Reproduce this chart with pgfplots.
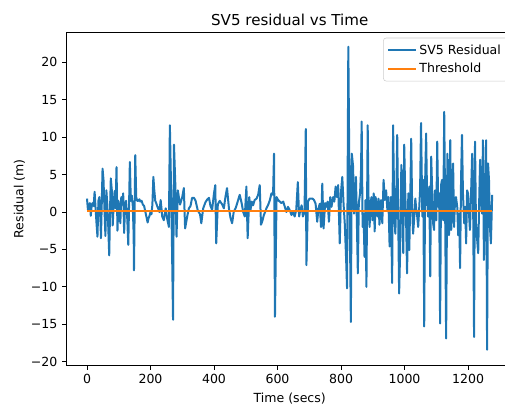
\documentclass[border=0pt]{standalone}
\usepackage{pgfplots}
\pgfplotsset{compat=1.18}
\usepackage{fontspec}
\setmainfont{DejaVu Sans}
\definecolor{mplblue}{RGB}{31,119,180}
\definecolor{mplorange}{RGB}{255,127,14}
\begin{document}
\begin{tikzpicture}
\begin{axis}[
    scale only axis,
    width=334.6pt, height=249.2pt,
    xmin=-64, xmax=1341,
    ymin=-20.45, ymax=23.97,
    xtick={0,200,...,1200},
    ytick={-20,-15,...,20},
    yticklabels={−20,−15,−10,−5,0,5,10,15,20},
    xtick pos=bottom, ytick pos=left,
    tick align=outside,
    major tick length=3.4pt,
    tick style={black, line width=0.6pt},
    axis line style={line width=0.6pt},
    /pgf/number format/assume math mode=true,
    /pgf/number format/1000 sep={},
    ticklabel style={font=\fontsize{9.4}{11}\selectfont},
    title={SV5 residual vs Time},
    every axis title/.style={font=\fontsize{11.3}{13}\selectfont, anchor=base, at={(0.5,1)}, yshift=5.6pt, inner sep=0pt},
    xlabel={Time (secs)},
    ylabel={Residual (m)},
    ylabel style={yshift=-2.5pt},
    label style={font=\fontsize{9.4}{11}\selectfont},
    legend style={at={(1,1)}, anchor=north east, xshift=-3.75pt, yshift=-3.75pt,
        draw=black!20, rounded corners=2pt, fill=white, fill opacity=0.8, text opacity=1,
        font=\fontsize{9.4}{11}\selectfont, inner sep=3pt, row sep=1pt},
    legend cell align=left,
    legend image code/.code={\draw[#1] (0cm,0cm) -- (0.72cm,0cm);},
]
\addplot[mplblue, line width=1.5pt, line join=round] coordinates {
(0,1.8)(3,0.3)(6,0.5)(9,1.2)(12,-0.5)(15,1.0)(18,1.2)(21,0.8)(24,2.7)(27,0.5)(30,-1.5)(33,-3.3)(36,1.5)(39,2.0)(42,-0.5)(44,-3.5)(47,2.0)(49,5.8)(52,4.3)(55,0.5)(58,-3.2)(61,2.9)(64,1.0)(67,-2.0)(70,-5.8)(73,1.0)(75,4.5)(78,3.0)(81,-1.8)(84,1.0)(87,2.8)(90,0.5)(93,6.0)(96,-2.5)(99,1.5)(102,0.8)(105,-1.5)(108,2.0)(111,1.0)(114,2.5)(117,-2.8)(120,1.0)(123,1.5)(127,-1.0)(130,-4.4)(133,2.0)(135,6.7)(138,1.5)(141,2.2)(144,1.0)(147,-3.0)(148,-7.8)(152,7.6)(155,2.0)(158,1.5)(161,1.5)(165,1.7)(168,1.4)(172,1.5)(176,1.0)(180,0.8)(184,0.0)(188,-0.8)(191,-1.4)(194,-0.8)(197,-0.5)(200,0.0)(203,-0.3)(206,1.0)(209,4.7)(212,2.9)(215,1.5)(218,1.2)(221,0.8)(224,0.5)(228,0.0)(232,1.6)
(237,-0.6)(242,-1.1)(248,0.5)(253,-1.0)(258,-2.0)(261,11.6)(266,0.5)(271,-14.4)(274,9.0)(278,3.9)(282,-3.3)(286,2.9)(293,1.0)(300,2.0)(305,3.2)(309,-2.2)(316,-0.5)(321,0.5)(326,0.8)(331,1.9)(337,1.9)(342,1.5)(349,0.2)(356,-0.3)(360,-1.5)(366,0.5)(373,1.3)(379,1.7)(384,1.9)(389,0.8)(394,0.3)(400,2.5)(404,3.6)(407,-4.2)(412,1.0)(418,1.5)(426,1.0)(431,0.5)(436,2.0)(441,3.2)(447,0.5)(452,-0.8)(457,-1.5)(462,0.0)(468,0.5)
(471,0.9)(476,1.6)(481,2.3)(487,1.2)(492,0.0)(497,-0.6)(502,3.4)(506,-3.5)(511,2.0)(515,0.3)(519,1.4)(523,0.9)(528,1.6)(534,1.8)(539,2.3)(544,3.6)(548,-1.7)(553,-1.1)(557,-0.4)(561,0.0)(565,0.5)(570,0.9)(576,1.6)(581,2.5)(586,2.3)(589,7.8)(592,-14.0)(597,2.0)(602,1.6)(607,1.4)(612,1.2)(618,1.4)(623,0.7)(628,0.0)(633,0.7)(638,0.3)(644,-0.4)(649,0.0)(654,-0.6)(659,0.3)(664,4.0)(668,-0.6)(672,0.3)(676,0.9)(680,-0.6)(685,0.0)(689,11.1)(691,-7.1)(696,1.4)(701,1.8)(707,1.8)
(710,1.8)(715,1.6)(720,1.1)(725,-1.3)(729,0.5)(733,1.1)(737,-2.0)(741,3.8)(745,-2.2)(750,1.2)(754,0.7)(758,1.4)(762,-1.3)(766,2.0)(770,0.7)(775,2.0)(779,1.4)(783,3.4)(787,2.0)(791,3.6)(796,-4.2)(800,2.7)(804,4.7)(808,1.1)(812,-1.7)(816,-6.2)(819,-10.2)(823,22.1)(827,1.6)(831,-14.7)(834,7.8)(838,6.1)(841,-0.2)(844,1.1)(847,4.7)(850,-1.5)(853,-8.2)(856,1.2)(860,2.5)(863,5.6)(865,12.1)(868,-2.0)(871,-0.2)(874,-6.0)(877,1.6)(880,-10.0)(884,11.6)(887,0.3)(890,-2.0)(893,1.2)(896,2.0)(899,-1.1)(903,2.5)(906,-2.6)(909,2.0)(912,0.7)(915,-0.6)(918,1.8)(921,-1.7)(926,1.6)(930,-1.5)(934,4.3)(938,1.6)(942,2.9)(946,0.3)(949,2.0)(953,-4.6)
(957,2.0)(961,-9.5)(964,11.6)(968,-0.2)(971,-2.9)(974,1.4)(977,10.3)(980,-0.2)(983,-10.9)(986,-5.5)(990,6.3)(993,2.0)(996,-5.5)(999,9.0)(1002,2.9)(1005,-1.1)(1008,-8.2)(1012,2.5)(1015,-5.1)(1018,1.6)(1021,9.8)(1024,0.7)(1027,-2.9)(1030,-1.1)(1034,1.8)(1037,0.3)(1040,-0.6)(1043,-2.0)(1046,0.3)(1049,2.9)(1052,11.9)(1056,-0.6)(1059,4.3)(1062,-15.3)(1065,4.3)(1068,10.5)(1071,2.0)(1074,-0.6)(1078,3.4)(1081,-8.6)(1084,7.4)(1087,2.9)(1090,-1.5)(1093,-2.4)(1096,2.9)(1100,-1.1)(1103,9.4)(1106,0.7)(1109,2.5)(1112,-14.9)(1115,3.6)(1118,4.3)(1122,-1.1)(1125,13.4)(1128,-0.2)(1131,-16.9)(1135,7.8)
(1140,-3.1)(1144,9.6)(1147,-2.4)(1150,0.3)(1153,6.5)(1156,-2.0)(1159,1.6)(1162,2.0)(1166,0.7)(1169,-3.1)(1172,-0.2)(1175,-7.5)(1178,4.3)(1181,10.3)(1184,2.5)(1188,-1.5)(1191,0.7)(1194,-4.2)(1197,2.9)(1200,2.5)(1203,-0.2)(1206,-2.4)(1210,3.1)(1213,7.8)(1216,1.6)(1219,-16.7)(1222,9.4)(1225,-1.5)(1228,-3.3)(1232,-5.5)(1235,1.2)(1238,7.0)(1241,1.6)(1244,-0.2)(1247,9.6)(1250,-6.4)(1254,3.0)(1257,9.6)(1260,-18.4)(1263,6.5)(1266,4.3)(1269,-2.0)(1272,-4.2)(1276,2.3)
};
\addlegendentry{SV5 Residual}
\addplot[mplorange, line width=1.5pt] coordinates {(0,0.1)(1276,0.1)};
\addlegendentry{Threshold}
\end{axis}
\pgfresetboundingbox
\path[use as bounding box] (current axis.south west) ++(-50pt,-31.5pt) rectangle ++(378.75pt,305.25pt);
\end{tikzpicture}
\end{document}
